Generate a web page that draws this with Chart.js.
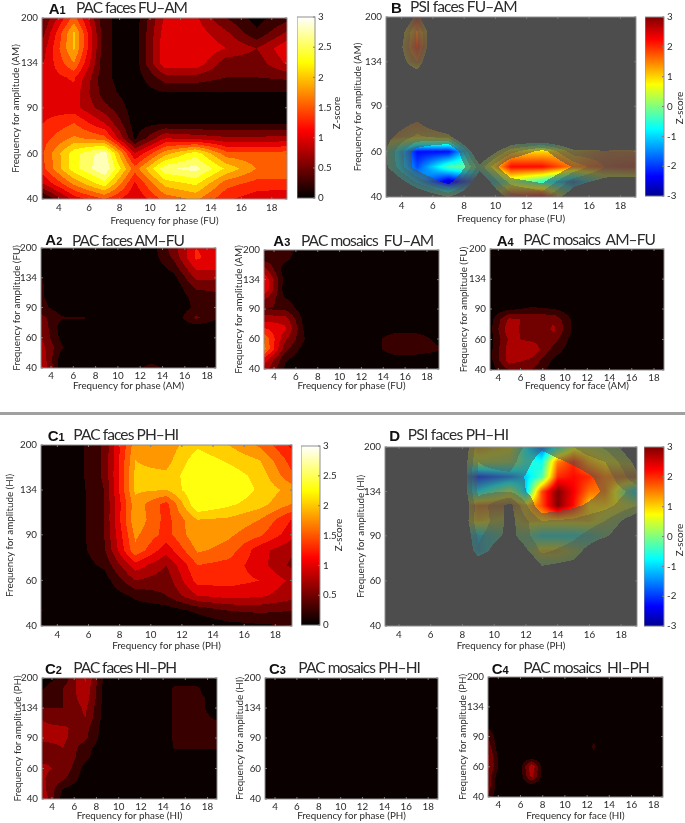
<!DOCTYPE html>
<html><head><meta charset="utf-8">
<script src="https://cdn.jsdelivr.net/npm/chart.js@4"></script>
<style>
html,body{margin:0;padding:0;background:#fff;width:685px;height:823px;overflow:hidden}
canvas{position:absolute}
.t{position:absolute;white-space:pre;color:#2a2a2a;font-family:Lato,sans-serif;line-height:1;transform:translateY(-50%)}
.l{position:absolute;white-space:pre;color:#111;font-family:"Liberation Sans",sans-serif;font-weight:bold;font-size:15px;line-height:1;transform:translateY(-50%)}
.l small{font-size:11px}
.z{position:absolute;white-space:pre;color:#2a2a2a;font-family:Lato,sans-serif;font-size:9.8px;line-height:1;transform:translate(-50%,-50%) rotate(-90deg)}
#rule{position:absolute;left:0;top:412px;width:685px;height:3px;background:#a0a0a0}
</style></head><body>
<div id="rule"></div>
<script>
// Node positions of the maps
const phaseNodes=[3,5,7,9,11,13,15,17,19];
const psiPhaseNodesD=[3,5,7,9,11,12,13,14,15,16,17,19];
const faceNodesC4=[3,4,5.9,7,8.1,12.2,12.6,13,19];
const ampNodes=[200,175,153,134,118,103,90,78.6,68.7,60,52.4,45.8,40];
const ampTicks=[40,60,90,134,200];
const phaseTicks=[4,6,8,10,12,14,16,18];
const zTicksPac=[0,0.5,1,1.5,2,2.5,3];
const zTicksPsi=[-3,-2,-1,0,1,2,3];

const pacA1=[
[.5,1.6,.3,.1,1.05,1.05,.5,.15,.4],
[.7,2.05,.3,.1,1.15,1.15,.8,.3,.8],
[.9,2.05,.3,.1,1.2,1.25,1.0,.75,1.2],
[1.0,1.75,.3,.1,1.2,1.2,.6,.6,1.05],
[1.1,1.3,.3,.1,.65,.65,.5,.5,.55],
[1.1,1.15,.35,.1,.24,.24,.24,.24,.24],
[1.15,1.1,.6,.1,.2,.2,.2,.2,.15],
[1.25,1.5,1.0,.12,.22,.22,.22,.22,.22],
[1.4,1.8,1.6,.2,1.0,.9,.8,.8,.85],
[1.5,2.4,2.9,1.0,1.9,2.4,1.6,1.55,1.6],
[1.45,2.4,3.0,1.6,2.7,2.85,2.2,1.75,1.7],
[1.0,1.8,2.4,1.2,2.1,2.3,1.6,1.4,1.4],
[.2,1.1,1.5,1.0,1.6,1.8,1.3,1.1,1.0]];
const psiB=[
[0,2,0,0,0,0,0,0,0],
[0,1.5,0,0,0,0,0,0,0],
[0,2,0,0,0,0,0,0,0],
[0,1.5,0,0,0,0,0,0,0],
[0,0,0,0,0,0,0,0,0],
[0,0,0,0,0,0,0,0,0],
[0,0,0,0,0,0,0,0,0],
[1.5,1.5,1.5,0,-1,-1,0,0,0],
[1.5,1.0,1.0,0,-1,-2,-1.5,-1,0],
[0,-2.2,-2.2,0,1,1,1.0,1.5,1.5],
[0,-1.8,-.3,0,2.2,2.2,1.5,1.8,2],
[0,-1.0,-2.6,-1.5,.3,-.5,-1.5,0,0],
[0,0,.5,0,2,2.5,0,0,0]];
const pacA2=[
[.1,.05,.05,.05,.05,.12,.65,1.25,1.15],
[.1,.05,.05,.05,.05,.1,.55,1.3,1.1],
[.2,.05,.05,.05,.05,.05,.35,1.05,1.05],
[.27,.05,.05,.05,.05,.05,.15,.8,.8],
[.3,.05,.05,.05,.05,.05,.05,.55,.55],
[.3,.05,.05,.05,.05,.05,.05,.35,.45],
[.35,.1,.05,.05,.05,.05,.05,.3,.3],
[.6,.27,.26,.05,.05,.05,.05,.55,.27],
[.75,.1,.15,.05,.05,.05,.05,.1,.05],
[.8,.15,.05,.05,.05,.05,.05,.05,.05],
[.9,.27,.05,.05,.05,.05,.05,.05,.05],
[1.0,.1,.05,.05,.05,.05,.05,.05,.05],
[1.1,.05,.05,.05,.05,.4,.05,.05,.05]];
const pacA3=[
[.35,.4,.05,.05,.05,.05,.05,.05,.05],
[.45,.3,.05,.05,.05,.05,.05,.05,.05],
[.9,.1,.05,.05,.05,.05,.05,.05,.05],
[1.3,.15,.05,.05,.05,.05,.05,.05,.05],
[1.3,.1,.05,.05,.05,.05,.05,.05,.05],
[.8,.27,.05,.05,.05,.05,.05,.05,.05],
[.5,.45,.05,.05,.05,.05,.05,.05,.05],
[.9,.9,.05,.05,.05,.05,.05,.05,.05],
[1.3,1.05,.1,.05,.05,.05,.1,.1,.05],
[1.75,.8,.2,.05,.05,.1,.45,.45,.15],
[1.9,.6,.05,.05,.05,.1,.45,.45,.3],
[1.2,.3,.05,.05,.05,.05,.1,.1,.05],
[.95,.2,.05,.05,.05,.05,.05,.05,.05]];
const pacA4=[
[.03,.03,.03,.03,.03,.03,.03,.03,.03],
[.03,.03,.03,.03,.03,.03,.03,.03,.03],
[.03,.03,.03,.03,.03,.03,.03,.03,.03],
[.03,.03,.03,.03,.03,.03,.03,.03,.03],
[.03,.03,.03,.03,.03,.03,.03,.03,.03],
[.03,.03,.03,.03,.03,.03,.03,.03,.03],
[.03,.2,.3,.25,.03,.03,.03,.03,.03],
[.05,.8,.7,.7,.1,.03,.03,.03,.03],
[.05,.95,.5,.8,.1,.03,.03,.03,.03],
[.05,.8,.7,.6,.05,.03,.03,.03,.03],
[.05,.9,.95,.4,.03,.03,.03,.03,.03],
[.05,.9,.7,.2,.03,.03,.03,.03,.03],
[.05,.5,.5,.1,.03,.03,.03,.03,.03]];
const pacC1=[
[.08,.08,.55,1.9,1.85,2.2,2.0,1.7,1.2],
[.08,.08,.55,2.0,1.9,2.4,2.2,2.0,1.4],
[.08,.08,.55,2.05,2.05,2.5,2.4,2.15,1.55],
[.08,.08,.5,2.05,2.0,2.5,2.5,2.2,1.9],
[.08,.08,.5,1.9,1.4,2.5,2.3,2.1,1.75],
[.08,.08,.5,1.95,1.4,2.0,1.95,1.75,1.25],
[.08,.08,.5,1.8,1.4,1.95,1.8,1.55,1.1],
[.08,.08,.45,1.7,1.1,1.8,1.65,1.1,.8],
[.08,.08,.3,1.15,.75,1.5,1.4,1.1,.7],
[.08,.08,.12,.75,.6,1.35,1.35,1.25,.95],
[.08,.05,.05,.3,.5,1.0,1.1,1.05,.85],
[.26,.05,.05,.1,.1,.3,.5,.55,.5],
[.05,.05,.05,.05,.05,.05,.15,.2,.25]];
const psiD=[
[0,0,0,1.2,.8,-.8,-1.6,-.6,.5,.5,.3,0],
[0,0,0,.5,.3,-.5,-.7,1.5,2.0,1.2,.8,.5],
[0,0,0,-2,-1.5,-1,-.3,2.0,2.2,2.0,1.5,1.5],
[0,0,0,-.8,.4,-1,1.8,3,2.3,1.6,1.5,-1],
[0,0,0,1.5,1.5,1,1.8,3,2.2,1,1,.5],
[0,0,0,1,.5,1,1,1,1,1,.5,0],
[0,0,0,-1,0,0,-.7,-.7,-.7,-.5,0,0],
[0,0,0,-1,0,0,1,1,.5,0,0,0],
[0,0,0,0,0,0,0,0,0,0,0,0],
[0,0,0,0,0,0,0,0,0,0,0,0],
[0,0,0,0,0,0,0,0,0,0,0,0],
[0,0,0,0,0,0,0,0,0,0,0,0],
[0,0,0,0,0,0,0,0,0,0,0,0]];
const pacC2=[
[.1,.3,1.05,.03,.03,.03,.15,.15,.1],
[.2,.5,.95,.03,.03,.03,.27,.27,.15],
[.4,.5,.9,.03,.03,.05,.27,.27,.22],
[.5,.5,.8,.03,.03,.1,.27,.27,.22],
[.75,.55,.75,.03,.03,.05,.27,.27,.24],
[.8,.8,.6,.03,.03,.05,.27,.27,.27],
[.8,.8,.55,.03,.03,.05,.27,.27,.27],
[.65,.75,.35,.03,.03,.03,.26,.26,.26],
[.7,.75,.3,.03,.03,.03,.05,.05,.05],
[.8,.7,.15,.03,.03,.03,.03,.03,.03],
[.8,.55,.1,.03,.03,.03,.03,.03,.03],
[.9,.25,.05,.03,.03,.03,.03,.03,.03],
[1.05,.1,.03,.03,.03,.03,.03,.03,.03]];
const pacC3=[
[.02,.02,.02,.02,.02,.02,.02,.02,.02],
[.02,.02,.02,.02,.02,.02,.02,.02,.02],
[.02,.02,.02,.02,.02,.02,.02,.02,.02],
[.02,.02,.02,.02,.02,.02,.02,.02,.02],
[.02,.02,.02,.02,.02,.02,.02,.02,.02],
[.02,.02,.02,.02,.02,.02,.02,.02,.02],
[.02,.02,.02,.02,.02,.02,.02,.02,.02],
[.02,.02,.02,.02,.02,.02,.02,.02,.02],
[.02,.02,.02,.02,.02,.02,.02,.02,.02],
[.02,.02,.02,.02,.02,.02,.02,.02,.02],
[.02,.02,.02,.02,.02,.02,.02,.02,.02],
[.02,.02,.02,.02,.02,.02,.02,.02,.02],
[.02,.02,.02,.02,.02,.02,.02,.02,.02]];
const pacC4=[
[.03,.03,.03,.03,.03,.03,.03,.03,.03],
[.03,.03,.03,.03,.03,.03,.03,.03,.03],
[.03,.03,.03,.03,.03,.03,.03,.03,.03],
[.03,.03,.03,.03,.03,.03,.03,.03,.03],
[.05,.03,.03,.03,.03,.03,.03,.03,.03],
[.2,.03,.03,.03,.03,.03,.03,.03,.03],
[.55,.05,.03,.03,.03,.03,.03,.03,.03],
[.7,.1,.03,.03,.03,.03,.4,.03,.03],
[.85,.2,.03,.05,.03,.03,.03,.03,.03],
[.85,.25,.05,1.0,.05,.03,.03,.03,.03],
[.7,.1,.05,.8,.05,.03,.03,.03,.03],
[.7,.05,.03,.05,.03,.03,.03,.03,.03],
[.5,.03,.03,.03,.03,.03,.03,.03,.03]];

const AX_FONT={family:'Lato',size:9.8};
const TXT='#2a2a2a';
const FRAME='#8f8f8f';
const clamp=v=>Math.max(0,Math.min(1,v));
function hot(z){ // stepped contour colour
  const lv=Math.min(3,Math.floor(z/0.25)*0.25), t=lv<=0?0.015:lv<=1?lv/3:(lv+0.04)/3;
  return [255*clamp(t/0.375),255*clamp((t-0.375)/0.375),255*clamp((t-0.75)/0.25)];
}
function jet(v){
  const t=(v+3)/6;
  return [255*clamp(1.5-Math.abs(4*t-3)),255*clamp(1.5-Math.abs(4*t-2)),255*clamp(1.5-Math.abs(4*t-1))];
}
function maskAlpha(p){return p<1.5?0:p<1.75?.2:p<2?.3:p<2.25?.45:1;}

function gridPoints(xs,ys,rows){
  const pts=[];
  ys.forEach((y,r)=>xs.forEach((x,c)=>pts.push({x,y,v:rows[r][c]})));
  return pts;
}
// Samples a dataset's grid at a pixel, with node positions taken from the scales
function makeSampler(ds,xScale,yScale){
  const xs=[...new Set(ds.data.map(d=>d.x))], ys=[...new Set(ds.data.map(d=>d.y))];
  const xp=xs.map(v=>xScale.getPixelForValue(v)), yp=ys.map(v=>yScale.getPixelForValue(v));
  const n=xs.length, val=ds.data.map(d=>d.v);
  return (px,py)=>{
    let c=0; while(c<n-2&&px>xp[c+1])c++;
    let r=0; while(r<ys.length-2&&py>yp[r+1])r++;
    const u=clamp((px-xp[c])/(xp[c+1]-xp[c])), w=clamp((py-yp[r])/(yp[r+1]-yp[r]));
    const a=val[r*n+c],b=val[r*n+c+1],d=val[(r+1)*n+c],e=val[(r+1)*n+c+1];
    return (a*(1-u)+b*u)*(1-w)+(d*(1-u)+e*u)*w;
  };
}
const mapPlugin={id:'contourMap',
  beforeDatasetsDraw(chart){
    const a=chart.chartArea,sx=chart.scales.x,sy=chart.scales.y,ctx=chart.ctx;
    const W=Math.ceil(a.right-a.left),H=Math.ceil(a.bottom-a.top);
    const off=document.createElement('canvas');off.width=W;off.height=H;
    const oc=off.getContext('2d'),img=oc.createImageData(W,H);
    const main=makeSampler(chart.data.datasets[0],sx,sy);
    const isPsi=chart.data.datasets.length>1;
    const mask=isPsi?makeSampler(chart.data.datasets[1],sx,sy):null;
    for(let j=0;j<H;j++)for(let i=0;i<W;i++){
      const px=a.left+i+.5,py=a.top+j+.5,k=(j*W+i)*4;let c;
      if(isPsi){
        const al=maskAlpha(mask(px,py)),q=jet(main(px,py));
        c=[0,1,2].map(m=>77*(1-al)+q[m]*al);
      } else c=hot(main(px,py));
      img.data[k]=c[0];img.data[k+1]=c[1];img.data[k+2]=c[2];img.data[k+3]=255;
    }
    oc.putImageData(img,0,0);
    ctx.save();
    ctx.beginPath();ctx.rect(a.left,a.top,a.right-a.left,a.bottom-a.top);ctx.clip();
    ctx.drawImage(off,a.left,a.top);
    ctx.filter='blur(0.6px)';
    ctx.drawImage(off,a.left,a.top);
    ctx.restore();
  },
  afterDatasetsDraw(chart){
    const a=chart.chartArea,ctx=chart.ctx;
    ctx.save();ctx.strokeStyle='#777';ctx.lineWidth=1;ctx.beginPath();
    chart.scales.x.ticks.forEach(t=>{const p=chart.scales.x.getPixelForValue(t.value);
      ctx.moveTo(p,a.bottom);ctx.lineTo(p,a.bottom-2);ctx.moveTo(p,a.top);ctx.lineTo(p,a.top+2);});
    chart.scales.y.ticks.forEach(t=>{const p=chart.scales.y.getPixelForValue(t.value);
      ctx.moveTo(a.left,p);ctx.lineTo(a.left+2,p);ctx.moveTo(a.right,p);ctx.lineTo(a.right-2,p);});
    ctx.stroke();
    ctx.strokeStyle=FRAME;ctx.strokeRect(a.left,a.top,a.right-a.left,a.bottom-a.top);
    ctx.restore();
  }};
const framePlugin={id:'barFrame',afterDatasetsDraw(chart){
  const a=chart.chartArea,ctx=chart.ctx,sy=chart.scales.y;
  ctx.save();ctx.strokeStyle='#777';ctx.beginPath();
  sy.ticks.forEach(t=>{const p=sy.getPixelForValue(t.value);ctx.moveTo(a.right,p);ctx.lineTo(a.right-2,p);});
  ctx.stroke();ctx.strokeStyle=FRAME;ctx.strokeRect(a.left,a.top,a.right-a.left,a.bottom-a.top);ctx.restore();
}};
function addCanvas(l,t,w,h){
  const c=document.createElement('canvas');c.width=w;c.height=h;
  c.style.left=l+'px';c.style.top=t+'px';c.style.width=w+'px';c.style.height=h+'px';
  document.body.appendChild(c);return c;
}
function mapChart(p){
  const left=Math.round(p.yTitleX-6),top=Math.round(p.box[2])-10,
        x0=Math.round(p.box[0]),x1=Math.round(p.box[1]),y1=Math.round(p.box[3]),
        W=x1-left+12,H=Math.round(p.xTitleY+6)-top,padL=x0-left,padB=H-(y1-top),
        small=(y1-top)<150;
  const datasets=[{label:p.name,data:gridPoints(p.xs,ampNodes,p.values),pointRadius:0,showLine:false}];
  if(p.mask)datasets.push({label:p.name+' mask',data:gridPoints(phaseNodes,ampNodes,p.mask),pointRadius:0,showLine:false});
  new Chart(addCanvas(left,top,W,H),{type:'scatter',data:{datasets},plugins:[mapPlugin],options:{
    responsive:false,animation:false,events:[],
    layout:{padding:{top:10,right:12,left:0,bottom:0}},
    plugins:{legend:{display:false},tooltip:{enabled:false}},
    scales:{
      x:{type:'linear',min:p.xr[0],max:p.xr[1],grid:{display:false,drawTicks:false},border:{display:false},
        title:{display:true,text:p.xTitle,color:TXT,font:AX_FONT,padding:0},
        ticks:{color:TXT,font:AX_FONT,padding:small?2:3,maxRotation:0,autoSkip:false,callback:v=>String(v)},
        afterBuildTicks:s=>{s.ticks=phaseTicks.map(value=>({value}));},
        afterFit:s=>{s.height=padB;}},
      y:{type:'logarithmic',min:40,max:200,grid:{display:false,drawTicks:false},border:{display:false},
        title:{display:true,text:p.yTitle,color:TXT,font:AX_FONT,padding:0},
        ticks:{color:TXT,font:AX_FONT,padding:4,autoSkip:false,callback:v=>String(v)},
        afterBuildTicks:s=>{s.ticks=ampTicks.map(value=>({value}));},
        afterFit:s=>{s.width=padL;}}
    }}});
}
const hotStops=[[0,'#000000'],[.375,'#ff0000'],[.75,'#ffff00'],[1,'#ffffff']];
const jetStops=[[0,'#00008f'],[.11,'#0000ff'],[.375,'#00ffff'],[.625,'#ffff00'],[.875,'#ff0000'],[1,'#800000']];
function colorbar(box,range,ticks,stops){
  const x0=Math.round(box[0]),x1=Math.round(box[1]),y0=Math.round(box[2]),y1=Math.round(box[3]);
  const W=x1-x0+28,H=y1-y0+18;
  new Chart(addCanvas(x0,y0-10,W,H),{type:'bar',plugins:[framePlugin],
    data:{labels:['Z-score'],datasets:[{label:'Z-score',data:[range],barPercentage:1,categoryPercentage:1,
      backgroundColor:c=>{const a=c.chart.chartArea;if(!a)return '#000';
        const g=c.chart.ctx.createLinearGradient(0,a.bottom,0,a.top);
        stops.forEach(s=>g.addColorStop(s[0],s[1]));return g;}}]},
    options:{responsive:false,animation:false,events:[],
      layout:{padding:{top:10,bottom:8,left:0,right:0}},
      plugins:{legend:{display:false},tooltip:{enabled:false}},
      scales:{x:{display:false},
        y:{position:'right',min:range[0],max:range[1],grid:{display:false,drawTicks:false},border:{display:false},
          ticks:{color:TXT,font:AX_FONT,padding:3,autoSkip:false,callback:v=>String(v)},
          afterBuildTicks:s=>{s.ticks=ticks.map(value=>({value}));},
          afterFit:s=>{s.width=28;}}}}});
}
const panels=[
 {name:'A1',box:[42.3,287.3,17.7,199.3],xr:[2.9,19],yTitleX:15.7,xTitleY:220.7,xs:phaseNodes,values:pacA1,xTitle:'Frequency for phase (FU)',yTitle:'Frequency for amplitude (AM)'},
 {name:'B',box:[386,636,16.5,196.7],xr:[3,19],yTitleX:358,xTitleY:219.3,xs:phaseNodes,values:psiB,mask:pacA1,xTitle:'Frequency for phase (FU)',yTitle:'Frequency for amplitude (AM)'},
 {name:'A2',box:[40.7,215.7,248.3,368.3],xr:[3.1,18.8],yTitleX:17.3,xTitleY:386,xs:phaseNodes,values:pacA2,xTitle:'Frequency for phase (AM)',yTitle:'Frequency for amplitude (FU)'},
 {name:'A3',box:[264,439,250,369.3],xr:[3.08,19.1],yTitleX:239.3,xTitleY:386.3,xs:phaseNodes,values:pacA3,xTitle:'Frequency for phase (FU)',yTitle:'Frequency for amplitude (AM)'},
 {name:'A4',box:[490,664,249.3,370],xr:[3.25,18.9],yTitleX:464.3,xTitleY:386.3,xs:phaseNodes,values:pacA4,xTitle:'Frequency for face (AM)',yTitle:'Frequency for amplitude (FU)'},
 {name:'C1',box:[41,291.7,445,625.7],xr:[2.95,19.07],yTitleX:10,xTitleY:646,xs:phaseNodes,values:pacC1,xTitle:'Frequency for phase (PH)',yTitle:'Frequency for amplitude (HI)'},
 {name:'D',box:[385.3,637,447.3,626],xr:[3.12,19],yTitleX:360.7,xTitleY:646,xs:psiPhaseNodesD,values:psiD,mask:pacC1,xTitle:'Frequency for phase (PH)',yTitle:'Frequency for amplitude (HI)'},
 {name:'C2',box:[41.7,216.7,678.3,799],xr:[3.1,18.85],yTitleX:18.3,xTitleY:816.3,xs:phaseNodes,values:pacC2,xTitle:'Frequency for phase (HI)',yTitle:'Frequency for amplitude (PH)'},
 {name:'C3',box:[265,437.7,678.3,799],xr:[3.08,18.9],yTitleX:240,xTitleY:816.3,xs:phaseNodes,values:pacC3,xTitle:'Frequency for phase (PH)',yTitle:'Frequency for amplitude (HI)'},
 {name:'C4',box:[488,663.3,676.7,796.7],xr:[3.07,18.84],yTitleX:463.3,xTitleY:816.3,xs:faceNodesC4,values:pacC4,xTitle:'Frequency for face (HI)',yTitle:'Frequency for amplitude (PH)'}
];
panels.forEach(mapChart);
colorbar([296.7,315,16.7,199],[0,3],zTicksPac,hotStops);
colorbar([645,664.3,16.7,197.3],[-3,3],zTicksPsi,jetStops);
colorbar([300.7,320,445.7,625.7],[0,3],zTicksPac,hotStops);
colorbar([644.3,664,446.7,626.7],[-3,3],zTicksPsi,jetStops);

const headings=[
 ['A','1',48.7,7.5,'PAC faces FU–AM',76,187,8],
 ['B','',391,7,'PSI faces FU–AM',410,516.7,7],
 ['A','2',45.3,239.3,'PAC faces AM–FU',72,184,240.7],
 ['A','3',273.3,239.5,'PAC mosaics  FU–AM',301,433.3,240.7],
 ['A','4',496.7,239.5,'PAC mosaics  AM–FU',523.3,655,240],
 ['C','1',47.7,435,'PAC faces PH–HI',73.3,178.3,435],
 ['D','',389.3,435,'PSI faces PH–HI',407.7,508.3,435],
 ['C','2',45,668.3,'PAC faces HI–PH',73.3,176,668.3],
 ['C','3',269,668.3,'PAC mosaics PH–HI',298.3,420,668.3],
 ['C','4',491.7,668.3,'PAC mosaics  HI–PH',523.3,649,668.3]
];
headings.forEach(h=>{
  const l=document.createElement('div');l.className='l';l.style.left=h[2]+'px';l.style.top=h[3]+'px';
  l.textContent=h[0];
  if(h[1]){const s=document.createElement('small');s.textContent=h[1];l.appendChild(s);}
  document.body.appendChild(l);
  const t=document.createElement('div');t.className='t';t.style.left=h[5]+'px';t.style.top=h[7]+'px';
  t.style.fontSize='15.5px';t.textContent=h[4];document.body.appendChild(t);
  const w=t.getBoundingClientRect().width;
  t.style.letterSpacing=((h[6]-h[5]-w)/h[4].length).toFixed(3)+'px';
});
[[336.7,113],[680,108],[339,535],[680,540]].forEach(p=>{
  const z=document.createElement('div');z.className='z';z.textContent='Z-score';
  z.style.left=p[0]+'px';z.style.top=p[1]+'px';document.body.appendChild(z);
});
</script>
</body></html>
